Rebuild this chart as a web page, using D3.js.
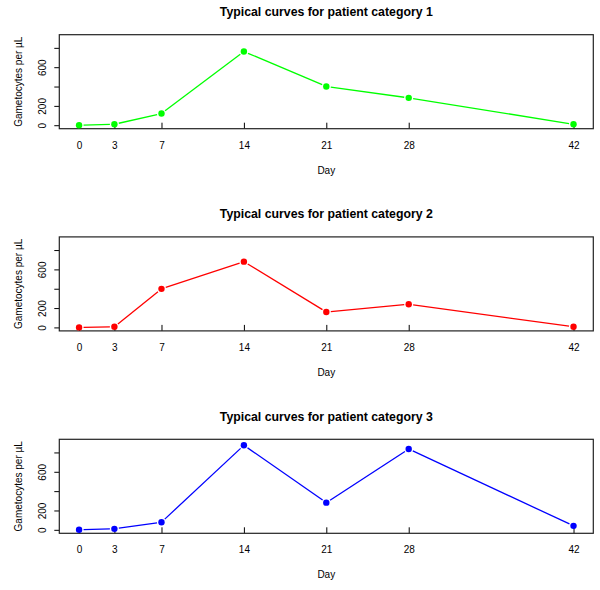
<!DOCTYPE html>
<html>
<head>
<meta charset="utf-8">
<script src="https://cdn.jsdelivr.net/npm/d3@7"></script>
<style>
  body { margin: 0; background: #fff; }
  svg { display: block; font-family: "Liberation Sans", Arial, Helvetica, sans-serif; }
</style>
</head>
<body>
<svg id="chart" width="600" height="590"></svg>
<script>
// ---- data ----
const days = [0, 3, 7, 14, 21, 28, 42];
const category1 = [0, 10, 121, 762, 401, 283, 10];
const category2 = [0, 7, 399, 680, 160, 240, 7];
const category3 = [0, 10, 79, 874, 281, 836, 41];
const seriesNames = ["Typical curves for patient category 1", "Typical curves for patient category 2", "Typical curves for patient category 3"];
const seriesColors = ["#00ff00", "#ff0000", "#0000ff"];
const yTicks = [0, 200, 400, 600, 800];
const yTickLabels = ["0", "200", "", "600", ""];
const yLimit = [0, 900];
const xLabel = "Day";
const yLabel = "Gametocytes per \u00b5L";

const seriesValues = [category1, category2, category3];

const svg = d3.select("#chart");
const left = 59.3, right = 593.3, plotH = 94;
const panelTops = [34.7, 236.9, 439.3];

const xExt = (days[days.length - 1] - days[0]) * 0.04;
const x = d3.scaleLinear().domain([days[0] - xExt, days[days.length - 1] + xExt]).range([left, right]);
const yExt = (yLimit[1] - yLimit[0]) * 0.04;

seriesValues.forEach((vals, i) => {
  const top = panelTops[i];
  const y = d3.scaleLinear().domain([yLimit[0] - yExt, yLimit[1] + yExt]).range([top + plotH, top]);
  const g = svg.append("g");
  const col = seriesColors[i];

  // title
  g.append("text").attr("x", (left + right) / 2).attr("y", top - 18.5)
    .attr("text-anchor", "middle").attr("font-size", 12.3).attr("font-weight", "bold")
    .text(seriesNames[i]);

  // x axis (ticks inward)
  const xa = g.append("g").attr("transform", `translate(0,${top + plotH})`)
    .call(d3.axisBottom(x).tickValues(days).tickSize(-6).tickPadding(13).tickFormat(d3.format("d")));
  xa.select(".domain").remove();
  xa.selectAll("line").attr("stroke", "#000");
  xa.selectAll("text").attr("font-size", 10).attr("fill", "#000").attr("font-family", null);

  // y axis
  const ya = g.append("g").attr("transform", `translate(${left},0)`)
    .call(d3.axisLeft(y).tickValues(yTicks).tickSize(5).tickFormat((d, k) => yTickLabels[k]));
  ya.select(".domain").remove();
  ya.selectAll("line").attr("stroke", "#000");
  ya.selectAll("text")
    .attr("font-size", 10).attr("fill", "#000").attr("font-family", null)
    .attr("x", null).attr("dy", null)
    .attr("text-anchor", "middle")
    .attr("transform", "translate(-13,0) rotate(-90)");

  // box
  g.append("rect").attr("x", left).attr("y", top).attr("width", right - left).attr("height", plotH)
    .attr("fill", "none").attr("stroke", "#222").attr("stroke-width", 1.2);

  // axis labels
  g.append("text").attr("x", (left + right) / 2).attr("y", top + plotH + 45)
    .attr("text-anchor", "middle").attr("font-size", 10).text(xLabel);
  g.append("text").attr("transform", `translate(22,${top + plotH / 2}) rotate(-90)`)
    .attr("text-anchor", "middle").attr("font-size", 10).text(yLabel);

  // type "b": segments with gaps around points
  const pts = days.map((d, k) => [x(d), y(vals[k])]);
  const gap = 4.5;
  for (let k = 0; k < pts.length - 1; k++) {
    const [x1, y1] = pts[k], [x2, y2] = pts[k + 1];
    const len = Math.hypot(x2 - x1, y2 - y1);
    if (len <= 2 * gap) continue;
    const ux = (x2 - x1) / len, uy = (y2 - y1) / len;
    g.append("line")
      .attr("x1", x1 + ux * gap).attr("y1", y1 + uy * gap)
      .attr("x2", x2 - ux * gap).attr("y2", y2 - uy * gap)
      .attr("stroke", col).attr("stroke-width", 1.3);
  }
  g.selectAll("circle.pt").data(days).enter().append("circle")
    .attr("class", "pt")
    .attr("cx", (d) => x(d)).attr("cy", (d, k) => y(vals[k]))
    .attr("r", 3.2).attr("fill", col);
});
</script>
</body>
</html>
